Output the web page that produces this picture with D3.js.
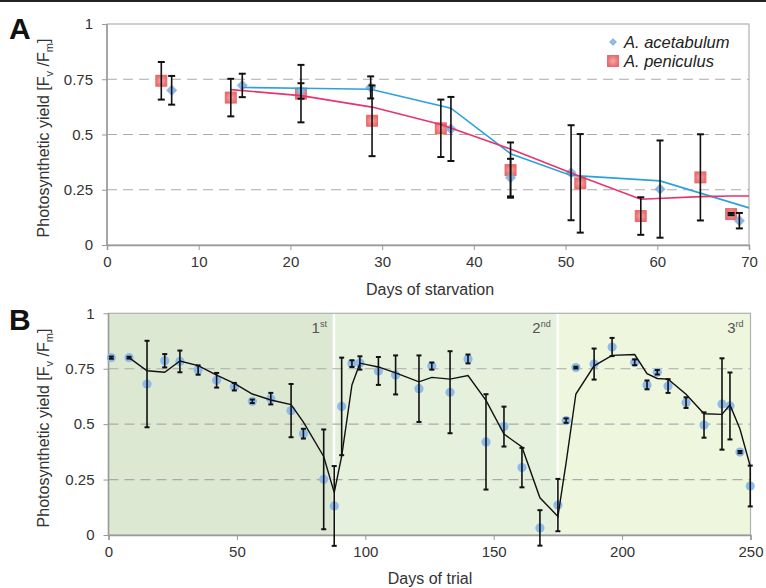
<!DOCTYPE html>
<html lang="en">
<head>
    <meta charset="utf-8" />
    <title>Photosynthetic yield</title>
    <script src="https://cdnjs.cloudflare.com/ajax/libs/d3/7.8.5/d3.min.js"></script>
    <style>
        body { margin: 0; background: white; }
        svg { font-family: "Liberation Sans", Arial, sans-serif; }
        .tick text { fill: #333; font-size: 15px; }
        .title { fill: #333; font-size: 16px; }
    </style>
</head>
<body>
<div id="chart"></div>
<script>
    // Panel A: days of starvation
    const acetDays = [7.05, 14.75, 21.15, 28.75, 37.5, 44.0, 50.6, 60.3, 68.95];
    const acetVals = [0.70, 0.722, 0.697, 0.713, 0.525, 0.305, 0.327, 0.253, 0.11];
    const acetErr  = [0.065, 0.053, 0.035, 0.05, 0.145, 0.085, 0.215, 0.22, 0.035];
    const peniDays = [5.92, 13.5, 21.15, 28.9, 36.4, 44.0, 51.6, 58.2, 64.7, 68.05];
    const peniVals = [0.743, 0.667, 0.685, 0.562, 0.528, 0.339, 0.279, 0.131, 0.306, 0.14];
    const peniErr  = [0.085, 0.085, 0.13, 0.16, 0.13, 0.125, 0.223, 0.085, 0.195, 0.005];
    // moving-average trend lines as drawn
    const acetTrendDays = [14.75, 21.15, 28.75, 37.5, 44.0, 50.6, 60.3, 70];
    const acetTrendVals = [0.713, 0.709, 0.705, 0.619, 0.413, 0.315, 0.29, 0.168];
    const peniTrendDays = [13.5, 21.15, 28.9, 36.4, 44.0, 51.6, 58.2, 64.7, 68.05, 70];
    const peniTrendVals = [0.703, 0.676, 0.624, 0.545, 0.434, 0.31, 0.207, 0.219, 0.222, 0.222];
    const xTicksA = [0, 10, 20, 30, 40, 50, 60, 70];

    // Panel B: days of trial
    const trialDays = [1.1, 8.0, 15.0, 21.9, 27.8, 34.9, 42.1, 49.0, 56.0, 63.2, 71.1, 75.9, 83.8, 87.9,
        90.8, 94.8, 97.9, 105.1, 111.8, 120.9, 125.9, 133.0, 140.0, 147.0, 154.0, 161.0, 168.0, 175.0,
        178.2, 182.0, 189.1, 196.1, 204.9, 209.7, 213.7, 217.9, 224.9, 231.9, 238.9, 242.0, 245.9, 249.9];
    const trialVals = [0.80, 0.80, 0.681, 0.786, 0.783, 0.744, 0.698, 0.669, 0.603, 0.615, 0.561, 0.457, 0.251, 0.131,
        0.58, 0.773, 0.776, 0.74, 0.722, 0.66, 0.762, 0.644, 0.794, 0.42, 0.489, 0.304, 0.032, 0.135,
        0.516, 0.755, 0.771, 0.848, 0.779, 0.677, 0.734, 0.672, 0.597, 0.496, 0.591, 0.582, 0.374, 0.221];
    const trialErr = [0.005, 0.004, 0.195, 0.03, 0.049, 0.021, 0.033, 0.017, 0.008, 0.026, 0.12, 0.022, 0.225, 0.18,
        0.22, 0.015, 0.03, 0.063, 0.088, 0.15, 0.016, 0.185, 0.02, 0.215, 0.09, 0.089, 0.08, 0.118,
        0.01, 0.004, 0.07, 0.041, 0.013, 0.02, 0.01, 0.031, 0.024, 0.057, 0.206, 0.151, 0.005, 0.092];
    const trialTrendDays = trialDays.slice(1);
    const trialTrendVals = [0.80, 0.741, 0.734, 0.785, 0.764, 0.721, 0.684, 0.636, 0.609, 0.588, 0.509, 0.354, 0.191,
        0.356, 0.677, 0.775, 0.758, 0.731, 0.691, 0.711, 0.703, 0.719, 0.607, 0.455, 0.397, 0.168, 0.084,
        0.326, 0.636, 0.763, 0.81, 0.814, 0.728, 0.706, 0.703, 0.635, 0.547, 0.544, 0.587, 0.478, 0.31];
    const trials = ["1st", "2nd", "3rd"];
    const trialBounds = [0, 87.8, 174.9, 250];
    const trialColors = ["#dce8d2", "#e5f1dc", "#eff6de"];
    const xTicksB = [0, 50, 100, 150, 200, 250];
    const yTicks = [0, 0.25, 0.5, 0.75, 1];

    const width = 766, height = 588;
    const svg = d3.select("#chart").append("svg")
        .attr("width", width).attr("height", height);

    // top rule
    svg.append("rect").attr("x", 0).attr("y", 0).attr("width", width).attr("height", 2).attr("fill", "#222");

    const defs = svg.append("defs");
    const rg = defs.append("radialGradient").attr("id", "sq");
    rg.append("stop").attr("offset", "0%").attr("stop-color", "#f7a8a8");
    rg.append("stop").attr("offset", "100%").attr("stop-color", "#e86a6a");
    const bg = defs.append("radialGradient").attr("id", "dm");
    bg.append("stop").attr("offset", "0%").attr("stop-color", "#a2c6ee");
    bg.append("stop").attr("offset", "100%").attr("stop-color", "#7eade0");
    defs.append("filter").attr("id", "soft")
        .append("feGaussianBlur").attr("stdDeviation", 0.6);

    function fmt(d) { return d === 0 ? "0" : d === 1 ? "1" : String(d); }

    function frame(g, x, y, xTicks) {
        const [x0, x1] = x.range();
        const [y0, y1] = y.range();
        g.append("g").selectAll("line").data([0.25, 0.5, 0.75]).join("line")
            .attr("x1", x0).attr("x2", x1)
            .attr("y1", d => y(d)).attr("y2", d => y(d))
            .attr("stroke", "#aaa").attr("stroke-width", 1.2).attr("stroke-dasharray", "10,6");
        g.append("rect").attr("x", x0).attr("y", y1).attr("width", x1 - x0).attr("height", y0 - y1)
            .attr("fill", "none").attr("stroke", "#b0b0b0").attr("stroke-width", 1.2);

        const xa = g.append("g").attr("transform", `translate(0,${y0})`)
            .call(d3.axisBottom(x).tickValues(xTicks).tickSize(5).tickPadding(6).tickFormat(d3.format("d")));
        const ya = g.append("g").attr("transform", `translate(${x0},0)`)
            .call(d3.axisLeft(y).tickValues(yTicks).tickSize(5).tickPadding(9).tickFormat(fmt));
        [xa, ya].forEach(a => {
            a.select(".domain").attr("stroke", "#999").attr("stroke-width", 1.5);
            a.selectAll(".tick line").attr("stroke", "#999");
        });
        ya.select(".domain").remove();
        ya.append("line").attr("x1", 0).attr("x2", 0).attr("y1", y0).attr("y2", y1)
            .attr("stroke", "#999").attr("stroke-width", 1.5);
    }

    function yTitle(g, cx, cy) {
        const t = g.append("text").attr("class", "title")
            .attr("transform", `translate(${cx},${cy}) rotate(-90)`)
            .attr("text-anchor", "middle");
        t.append("tspan").text("Photosynthetic yield [F");
        t.append("tspan").attr("font-size", 11).attr("dy", 4).text("v");
        t.append("tspan").attr("dy", -4).text(" /F");
        t.append("tspan").attr("font-size", 11).attr("dy", 4).text("m");
        t.append("tspan").attr("dy", -4).text("]");
    }

    function errBars(g, x, y, days, vals, errs, cap) {
        const eb = g.append("g").attr("stroke", "#111").attr("stroke-width", 1.6);
        days.forEach((d, i) => {
            const px = x(d), top = y(vals[i] + errs[i]), bot = y(vals[i] - errs[i]);
            eb.append("line").attr("x1", px).attr("x2", px).attr("y1", top).attr("y2", bot);
            eb.append("line").attr("x1", px - cap).attr("x2", px + cap).attr("y1", top).attr("y2", top).attr("stroke-width", 2);
            eb.append("line").attr("x1", px - cap).attr("x2", px + cap).attr("y1", bot).attr("y2", bot).attr("stroke-width", 2);
        });
    }

    // ---------- Panel A ----------
    const xA = d3.scaleLinear().domain([0, 70]).range([107, 749]);
    const yA = d3.scaleLinear().domain([0, 1]).range([245, 24]);
    const gA = svg.append("g");
    frame(gA, xA, yA, xTicksA);
    yTitle(gA, 49, 138);
    gA.append("text").attr("class", "title").attr("x", 430).attr("y", 295)
        .attr("text-anchor", "middle").text("Days of starvation");
    gA.append("text").attr("x", 9).attr("y", 39).attr("font-size", 30).attr("font-weight", "bold")
        .attr("fill", "#111").text("A");

    const diamond = d3.symbol().type(d3.symbolSquare).size(58);
    gA.append("g").selectAll("rect").data(peniDays).join("rect")
        .attr("x", d => xA(d) - 6).attr("y", (d, i) => yA(peniVals[i]) - 6)
        .attr("width", 12).attr("height", 12).attr("fill", "url(#sq)").attr("filter", "url(#soft)");
    gA.append("g").selectAll("path").data(acetDays).join("path")
        .attr("d", diamond)
        .attr("transform", (d, i) => `translate(${xA(d)},${yA(acetVals[i])}) rotate(45)`)
        .attr("fill", "url(#dm)").attr("filter", "url(#soft)");

    const lineA = d3.line().x(d => xA(d[0])).y(d => yA(d[1]));
    gA.append("path").datum(d3.zip(acetTrendDays, acetTrendVals)).attr("d", lineA)
        .attr("fill", "none").attr("stroke", "#2aa3dc").attr("stroke-width", 1.6);
    gA.append("path").datum(d3.zip(peniTrendDays, peniTrendVals)).attr("d", lineA)
        .attr("fill", "none").attr("stroke", "#e8336e").attr("stroke-width", 1.6);

    errBars(gA, xA, yA, peniDays, peniVals, peniErr, 3.5);
    errBars(gA, xA, yA, acetDays, acetVals, acetErr, 3.5);

    // legend
    const lg = gA.append("g").attr("transform", "translate(613,42)");
    lg.append("path").attr("d", d3.symbol().type(d3.symbolSquare).size(30))
        .attr("transform", "rotate(45)").attr("fill", "url(#dm)");
    lg.append("rect").attr("x", -6).attr("y", 13).attr("width", 12).attr("height", 12).attr("fill", "url(#sq)");
    lg.append("text").attr("x", 11).attr("y", 5.5).attr("font-size", 16.5).attr("font-style", "italic")
        .attr("fill", "#222").text("A. acetabulum");
    lg.append("text").attr("x", 11).attr("y", 25).attr("font-size", 16.5).attr("font-style", "italic")
        .attr("fill", "#222").text("A. peniculus");

    // ---------- Panel B ----------
    const xB = d3.scaleLinear().domain([0, 250]).range([108.5, 750.5]);
    const yB = d3.scaleLinear().domain([0, 1]).range([535, 313.3]);
    const gB = svg.append("g");
    gB.append("g").selectAll("rect").data(trials).join("rect")
        .attr("x", (d, i) => xB(trialBounds[i]))
        .attr("width", (d, i) => xB(trialBounds[i + 1]) - xB(trialBounds[i]))
        .attr("y", yB(1)).attr("height", yB(0) - yB(1))
        .attr("fill", (d, i) => trialColors[i]);
    gB.append("g").selectAll("line").data(trialBounds.slice(1, 3)).join("line")
        .attr("x1", d => xB(d)).attr("x2", d => xB(d))
        .attr("y1", yB(1)).attr("y2", yB(0))
        .attr("stroke", "white").attr("stroke-width", 2.5);
    frame(gB, xB, yB, xTicksB);
    yTitle(gB, 49, 428);
    gB.append("text").attr("class", "title").attr("x", 430).attr("y", 584)
        .attr("text-anchor", "middle").text("Days of trial");
    gB.append("text").attr("x", 9).attr("y", 330).attr("font-size", 30).attr("font-weight", "bold")
        .attr("fill", "#111").text("B");

    trials.forEach((t, i) => {
        const lab = gB.append("text").attr("x", xB(trialBounds[i + 1]) - 7).attr("y", 333)
            .attr("text-anchor", "end").attr("fill", "#555").attr("font-size", 15);
        lab.append("tspan").text(t.slice(0, 1));
        lab.append("tspan").attr("font-size", 9).attr("dy", -6).text(t.slice(1));
    });

    gB.append("g").selectAll("circle").data(trialDays).join("circle")
        .attr("cx", d => xB(d)).attr("cy", (d, i) => yB(trialVals[i]))
        .attr("r", 4.6).attr("fill", "#8fbbea").attr("filter", "url(#soft)");

    gB.append("path").datum(d3.zip(trialTrendDays, trialTrendVals))
        .attr("d", d3.line().x(d => xB(d[0])).y(d => yB(d[1])))
        .attr("fill", "none").attr("stroke", "#111").attr("stroke-width", 1.4);

    errBars(gB, xB, yB, trialDays, trialVals, trialErr, 2.5);
</script>
</body>
</html>
